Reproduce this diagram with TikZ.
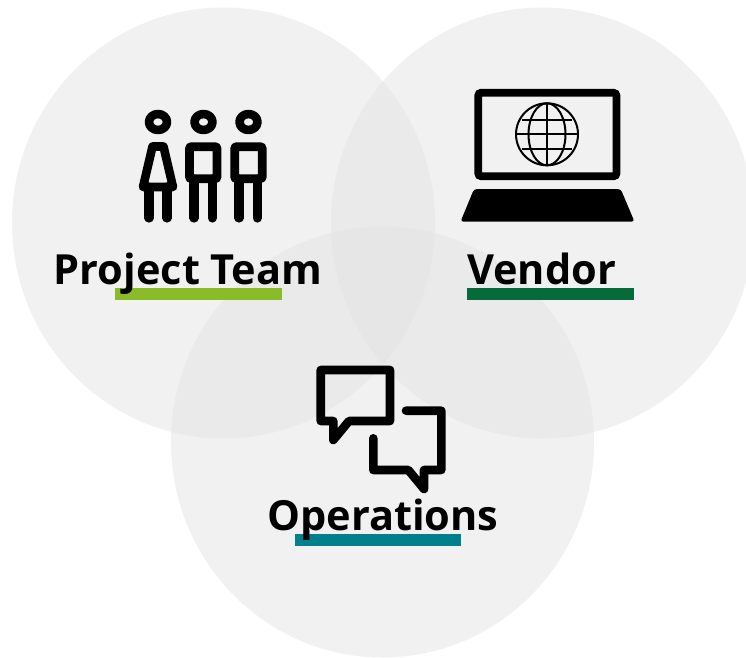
\documentclass[tikz,border=0pt]{standalone}
\usepackage{fontspec}
\setmainfont{Open Sans}
\definecolor{lime}{HTML}{89BC28}
\definecolor{forest}{HTML}{066B3A}
\definecolor{teal2}{HTML}{00808C}
\definecolor{vennone}{HTML}{F1F1F1}
\definecolor{venntwo}{HTML}{EAEAEA}
\definecolor{vennthree}{HTML}{E6E6E6}
\tikzset{
  icon/.style={draw=black,line width=8.6pt,line cap=round,line join=round},
  leg/.style={icon,line width=9.2pt},
  bar/.style={fill=#1,draw=none},
  lbl/.style={font=\bfseries\fontsize{41.5}{45}\selectfont,text=black,inner sep=0pt,anchor=base},
  thin globe/.style={draw=black,line width=2pt},
}
\def\va{(223.5,223) ellipse [x radius=211.5,y radius=215.5]}
\def\vb{(542.5,223) ellipse [x radius=211.5,y radius=215.5]}
\def\vc{(382.5,442) ellipse [x radius=211.5,y radius=215.5]}
\begin{document}
\begin{tikzpicture}[x=1pt,y=-1pt]
\useasboundingbox (0,0) rectangle (746,657);
\fill[white] (0,0) rectangle (746,657);
\fill[vennone] \va;
\fill[vennone] \vb;
\fill[vennone] \vc;
\begin{scope}\clip \va; \fill[venntwo] \vb; \fill[venntwo] \vc; \end{scope}
\begin{scope}\clip \vb; \fill[venntwo] \vc; \end{scope}
\begin{scope}\clip \va; \clip \vb; \fill[vennthree] \vc; \end{scope}
% bars
\fill[bar=lime] (115,287.5) rectangle (282,300);
\fill[bar=forest] (467,287.5) rectangle (634,300);
\fill[bar=teal2] (295,533.5) rectangle (461,546);
% labels
\node[lbl] (pt) at (188,284) {Project Team};
\node[lbl] (vd) at (541.5,284) {Vendor};
\node[lbl] (op) at (382.8,530.5) {Operations};
% people
\draw[icon] (158,122) ellipse [x radius=9,y radius=8];
\draw[icon] (203.5,122) ellipse [x radius=9,y radius=8];
\draw[icon] (248.5,122) ellipse [x radius=9,y radius=8];
\draw[icon] (152.5,146.5) -- (163.5,146.5) -- (173,187) -- (143,187) -- cycle;
\draw[leg] (149,187) -- (149,218);
\draw[leg] (167,187) -- (167,218);
\draw[icon,rounded corners=1pt] (189.5,146.7) rectangle (217,178.7);
\draw[leg] (194,179) -- (194,218);
\draw[leg] (212.3,179) -- (212.3,218);
\draw[icon,rounded corners=1pt] (234.7,146.7) rectangle (262.2,178.7);
\draw[leg] (239,179) -- (239,218);
\draw[leg] (257.3,179) -- (257.3,218);
% laptop
\draw[draw=black,line width=7.7pt,rounded corners=3pt] (478.2,92.7) rectangle (616.5,176.3);
\fill[black,rounded corners=3pt] (474,189) -- (620.7,189) -- (634.5,221.7) -- (460.5,221.7) -- cycle;
\draw[thin globe] (547,134.3) circle [radius=31];
\draw[thin globe] (547,134.3) ellipse [x radius=18.5,y radius=31];
\draw[thin globe] (547,103.3) -- (547,165.3);
\draw[thin globe] (516,134.3) -- (578,134.3);
\draw[thin globe] (522,120) -- (572,120);
\draw[thin globe] (522,148.6) -- (572,148.6);
% chat
\draw[icon] (349,421) -- (333.3,440) -- (333.3,421) -- (320.7,421) -- (320.7,370) -- (390,370) -- (390,421) -- cycle;
\draw[icon] (406,410.7) -- (441.3,410.7) -- (441.3,470) -- (424,470) -- (424,489) -- (408.3,470) -- (373.3,470) -- (373.3,438.3);
\end{tikzpicture}
\end{document}
